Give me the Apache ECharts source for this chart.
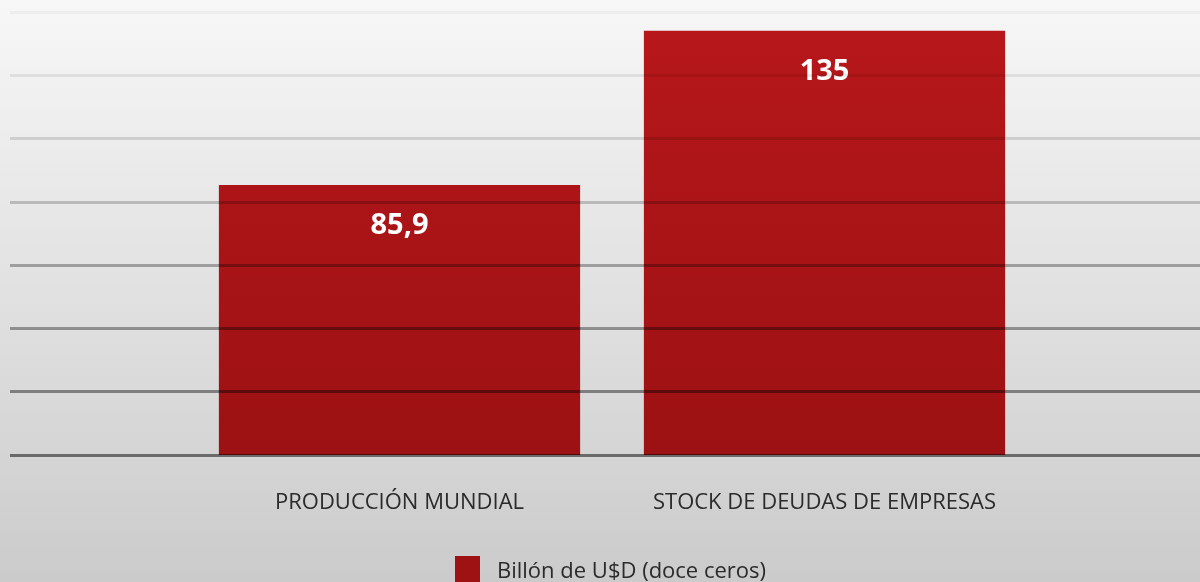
<!DOCTYPE html>
<html><head><meta charset="utf-8">
<script src="https://cdn.jsdelivr.net/npm/echarts@6/dist/echarts.min.js"></script>
<style>html,body{margin:0;padding:0;}#c{width:1200px;height:582px;}</style>
</head><body><div id="c"></div>
<script>
const categories = ['PRODUCCIÓN MUNDIAL', 'STOCK DE DEUDAS DE EMPRESAS'];
const values = [85.9, 135];
const seriesName = 'Billón de U$D (doce ceros)';
const yTicks = [0, 20, 40, 60, 80, 100, 120, 140];

const chart = echarts.init(document.getElementById('c'));
const gridColors = ['rgba(0,0,0,0.5)','rgba(0,0,0,0.42)','rgba(0,0,0,0.36)','rgba(0,0,0,0.3)','rgba(0,0,0,0.2)','rgba(0,0,0,0.13)','rgba(0,0,0,0.08)','rgba(0,0,0,0.035)'];
chart.setOption({
  backgroundColor: {type:'linear',x:0,y:0,x2:0,y2:1,colorStops:[{offset:0,color:'#f7f7f7'},{offset:1,color:'#cbcbcb'}]},
  textStyle:{fontFamily:'Open Sans'},
  grid:[
    {left:187,right:163,top:12,bottom:127},
    {left:10,right:0,top:12,bottom:127}
  ],
  legend:{
    data:[seriesName], left:450, top:551, itemWidth:25, itemHeight:32, itemGap:10,
    itemStyle:{color:'#9e1214'},
    textStyle:{fontFamily:'Open Sans',fontSize:22,color:'#2b2b2b',padding:[0,0,0,12]},
    icon:'rect'
  },
  xAxis:[
    {type:'category',gridIndex:0,data:categories,axisLine:{show:false},axisTick:{show:false},
     axisLabel:{interval:0,fontFamily:'Open Sans',fontSize:22,color:'#2b2b2b',margin:37}},
    {type:'category',gridIndex:1,data:categories,show:false}
  ],
  yAxis:[
    {type:'value',gridIndex:0,min:0,max:141,show:false},
    {type:'value',gridIndex:1,min:yTicks[0],max:yTicks[yTicks.length-1],interval:20,z:10,
     axisLine:{show:false},axisTick:{show:false},axisLabel:{show:false},
     splitLine:{show:true,lineStyle:{width:3,color:gridColors}}}
  ],
  series:[{
    name:seriesName,type:'bar',xAxisIndex:0,yAxisIndex:0,data:values,barCategoryGap:'15%',
    itemStyle:{color:{type:'linear',x:0,y:31,x2:0,y2:455,global:true,colorStops:[{offset:0,color:'#b6171a'},{offset:1,color:'#9c1113'}]}},
    label:{show:true,position:'insideTop',distance:26,color:'#fff',fontFamily:'Open Sans',fontWeight:'bold',fontSize:29,
      formatter:p=>String(p.value).replace('.',',')}
  }]
});
</script></body></html>
